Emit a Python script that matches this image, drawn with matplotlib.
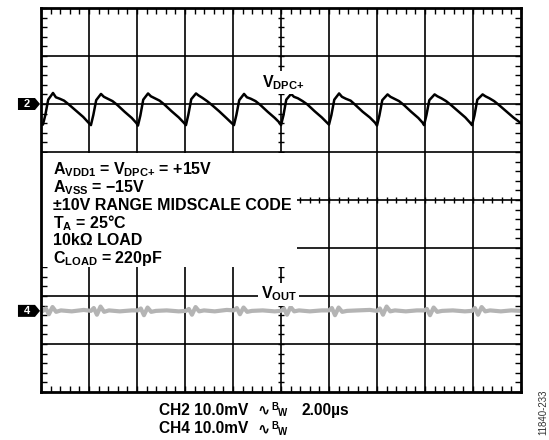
import numpy as np
import matplotlib
matplotlib.use("Agg")
import matplotlib.pyplot as plt
from matplotlib.patches import Rectangle, Polygon
from matplotlib.ticker import MultipleLocator, NullLocator
from matplotlib.transforms import blended_transform_factory

plt.rcParams['font.family'] = ['Liberation Sans', 'DejaVu Sans']
plt.rcParams['font.weight'] = 'bold'
plt.rcParams['mathtext.fontset'] = 'custom'
plt.rcParams['mathtext.rm'] = 'Liberation Sans:bold'
plt.rcParams['mathtext.it'] = 'Liberation Sans:bold'
plt.rcParams['mathtext.bf'] = 'Liberation Sans:bold'

# scope settings
volts_per_div = 10.0      # mV/div, both channels
ch2_offset = 2.0          # divisions
ch4_offset = -2.31

# CH2 (V_DPC+), time in us, value in mV relative to marker
ch2_t = [0.00, 0.08, 0.18, 0.30, 0.50, 0.62, 0.78, 0.96, 1.16, 1.46, 1.76, 1.98,
         2.08, 2.18, 2.30, 2.50, 2.62, 2.78, 2.98, 3.18, 3.48, 3.78, 3.98,
         4.04, 4.14, 4.26, 4.46, 4.58, 4.74, 4.94, 5.14, 5.44, 5.74, 5.95,
         6.04, 6.14, 6.26, 6.46, 6.56, 6.72, 6.92, 7.12, 7.42, 7.72, 7.95,
         8.04, 8.14, 8.26, 8.46, 8.58, 8.74, 8.94, 9.14, 9.44, 9.74, 9.92,
         10.00, 10.10, 10.22, 10.42, 10.54, 10.70, 10.90, 11.10, 11.40, 11.70, 11.92,
         12.00, 12.10, 12.22, 12.42, 12.54, 12.70, 12.90, 13.10, 13.40, 13.70, 13.92,
         14.00, 14.10, 14.22, 14.44, 14.56, 14.72, 14.92, 15.12, 15.42, 15.72, 15.90,
         15.96, 16.06, 16.18, 16.40, 16.52, 16.68, 16.88, 17.08, 17.38, 17.68, 17.88,
         17.96, 18.06, 18.18, 18.40, 18.52, 18.68, 18.88, 19.08, 19.38, 19.68, 20.00]
ch2_mv = [-3.9, -4.3, -2.3, 0.9, 2.3, 1.4, 1.1, 0.7, -0.1, -1.4, -2.7, -3.9,
          -4.4, -2.3, 0.8, 2.1, 1.5, 1.1, 0.6, -0.2, -1.6, -2.9, -4.0,
          -4.5, -2.4, 0.9, 2.2, 1.6, 1.2, 0.7, -0.1, -1.5, -2.8, -3.9,
          -4.4, -2.2, 1.0, 2.2, 1.8, 1.3, 0.6, -0.2, -1.5, -2.9, -4.0,
          -4.4, -2.3, 0.8, 2.1, 1.4, 1.1, 0.6, -0.2, -1.6, -2.9, -3.8,
          -4.4, -2.4, 0.9, 2.1, 1.5, 1.2, 0.6, -0.1, -1.5, -2.8, -3.9,
          -4.3, -2.3, 0.9, 2.2, 1.5, 1.1, 0.7, -0.2, -1.6, -2.8, -3.9,
          -4.5, -2.4, 0.8, 2.0, 1.5, 1.1, 0.6, -0.2, -1.6, -2.9, -3.9,
          -4.4, -2.3, 0.8, 2.0, 1.6, 1.2, 0.6, -0.2, -1.5, -2.8, -3.9,
          -4.4, -2.4, 0.9, 2.0, 1.6, 1.2, 0.6, -0.2, -1.5, -2.8, -4.0]

# CH4 (V_OUT), time in us, value in mV relative to marker
ch4_t = [0.00, 0.08, 0.20, 0.33, 0.48, 0.63, 0.83, 1.28, 1.78,
         2.08, 2.20, 2.33, 2.48, 2.63, 2.83, 3.28, 3.78,
         4.04, 4.16, 4.29, 4.44, 4.59, 4.79, 5.24, 5.74,
         6.04, 6.16, 6.29, 6.44, 6.59, 6.79, 7.24, 7.74,
         8.04, 8.16, 8.29, 8.44, 8.59, 8.79, 9.24, 9.74,
         10.00, 10.12, 10.25, 10.40, 10.55, 10.75, 11.20, 11.70,
         12.00, 12.12, 12.25, 12.40, 12.55, 12.75, 13.20, 13.70,
         14.00, 14.12, 14.25, 14.40, 14.55, 14.75, 15.20, 15.66,
         15.96, 16.08, 16.21, 16.36, 16.51, 16.71, 17.16, 17.66,
         17.96, 18.08, 18.21, 18.36, 18.51, 18.71, 19.16, 19.60, 20.00]
ch4_mv = [0.1, 0.0, 0.5, -0.7, 0.8, -0.2, 0.1, -0.1, 0.2,
          0.0, 0.6, -0.8, 0.9, -0.2, 0.1, -0.1, 0.1,
          0.1, 0.5, -0.9, 0.7, -0.2, 0.0, 0.1, -0.1,
          0.0, 0.4, -0.8, 0.8, -0.1, 0.1, -0.1, 0.2,
          0.1, 0.6, -0.7, 0.7, -0.2, 0.0, 0.1, -0.1,
          0.0, 0.5, -0.8, 0.8, -0.1, 0.1, -0.1, 0.1,
          0.1, 0.6, -0.9, 0.7, -0.2, 0.0, 0.1, 0.2,
          0.0, 0.5, -0.8, 0.9, -0.1, 0.1, -0.1, 0.1,
          0.1, 0.4, -0.9, 0.7, -0.2, 0.0, 0.1, -0.1,
          0.0, 0.6, -0.8, 0.8, -0.1, 0.1, -0.1, 0.1, 0.0]

info_lines = [r'$A_{VDD1}$ = $V_{DPC{+}}$ = +15V',
              '$A_{VSS}$ = \u221215V',
              '\u00b110V RANGE MIDSCALE CODE',
              r'$T_A$ = 25°C',
              '10k\u03a9 LOAD',
              r'$C_{LOAD}$ = 220pF']

W, H = 549, 440
fig = plt.figure(figsize=(W / 100, H / 100), dpi=100)
ax = fig.add_axes([41 / W, (H - 392) / H, 480 / W, 384 / H])
ax.set_xlim(0, 20)
ax.set_ylim(-4, 4)


def fpx(x, y):
    return x / W, 1 - y / H


# grid
for gx in range(2, 20, 2):
    ax.axvline(gx, color='black', lw=1.2, zorder=1)
for gy in range(-3, 4):
    ax.axhline(gy, color='black', lw=1.2, zorder=1)

# centre crosshair ticks
yt = np.arange(-4, 4.01, 0.2)
ax.plot([10] * len(yt), yt, ls='none', marker='_', ms=4.5, mew=1, color='black', zorder=1)
xt = np.arange(0, 20.01, 0.4)
ax.plot(xt, [0] * len(xt), ls='none', marker='|', ms=4.5, mew=1, color='black', zorder=1)

# frame ticks
ax.xaxis.set_major_locator(NullLocator())
ax.yaxis.set_major_locator(NullLocator())
ax.xaxis.set_minor_locator(MultipleLocator(0.4))
ax.yaxis.set_minor_locator(MultipleLocator(0.2))
ax.tick_params(which='minor', direction='in', length=4, width=1, color='black',
               top=True, right=True, bottom=True, left=True)
for s in ax.spines.values():
    s.set_linewidth(2)
    s.set_zorder(5)

# white box behind the info text
ax.add_patch(Rectangle((0, 0.326), 0.533, 0.296, transform=ax.transAxes,
                       facecolor='white', edgecolor='none', zorder=2))

# traces
ax.plot(ch2_t, np.array(ch2_mv) / volts_per_div + ch2_offset, color='black', lw=1.8, zorder=4)
ax.plot(ch4_t, np.array(ch4_mv) / volts_per_div + ch4_offset, color='#b4b4b4', lw=3, zorder=4)

# labels on the traces
ax.text(10.1, 2.44, r'$V_{DPC{+}}$', fontsize=11.5, ha='center', va='center', zorder=6,
        bbox=dict(facecolor='white', edgecolor='none', pad=1.5))
ax.text(9.9, -1.96, r'$V_{OUT}$', fontsize=11.5, ha='center', va='center', zorder=6,
        bbox=dict(facecolor='white', edgecolor='none', pad=1.5))

# info text
baselines = [174, 192, 210, 228, 245, 263]
for txt, yb in zip(info_lines, baselines):
    fig.text(*fpx(53, yb), txt, fontsize=11.5, fontweight='bold', va='baseline', ha='left')

# channel markers
bt = blended_transform_factory(ax.transAxes, ax.transData)
for lab, off in [('2', ch2_offset), ('4', ch4_offset)]:
    h = 0.125
    pts = [(-0.048, off - h), (-0.0125, off - h), (-0.002, off), (-0.0125, off + h), (-0.048, off + h)]
    ax.add_patch(Polygon(pts, closed=True, transform=bt, facecolor='black',
                         edgecolor='none', clip_on=False, zorder=6))
    ax.text(-0.030, off, lab, transform=bt, color='white', fontsize=8, fontweight='bold',
            ha='center', va='center', clip_on=False, zorder=7)

# bottom scope readout
for ch, yb in [('CH2 10.0mV', 414.5), ('CH4 10.0mV', 433)]:
    fig.text(*fpx(159, yb), ch, fontsize=11.2, fontweight='bold', va='baseline')
    fig.text(*fpx(257, yb), '\u223f', fontsize=10.5, fontweight='bold', va='baseline',
             family=['DejaVu Sans'])
    fig.text(*fpx(271.5, yb - 4.5), 'B', fontsize=7, fontweight='bold', va='baseline')
    fig.text(*fpx(278, yb + 1.5), 'W', fontsize=7, fontweight='bold', va='baseline')
fig.text(*fpx(302, 414.5), '2.00\u00b5s', fontsize=11.2, fontweight='bold', va='baseline')

fig.text(*fpx(543, 412), '11840-233', fontsize=7, fontweight='normal', rotation=90,
         ha='center', va='center', color='#333333')

fig.savefig('out.png', dpi=100)
